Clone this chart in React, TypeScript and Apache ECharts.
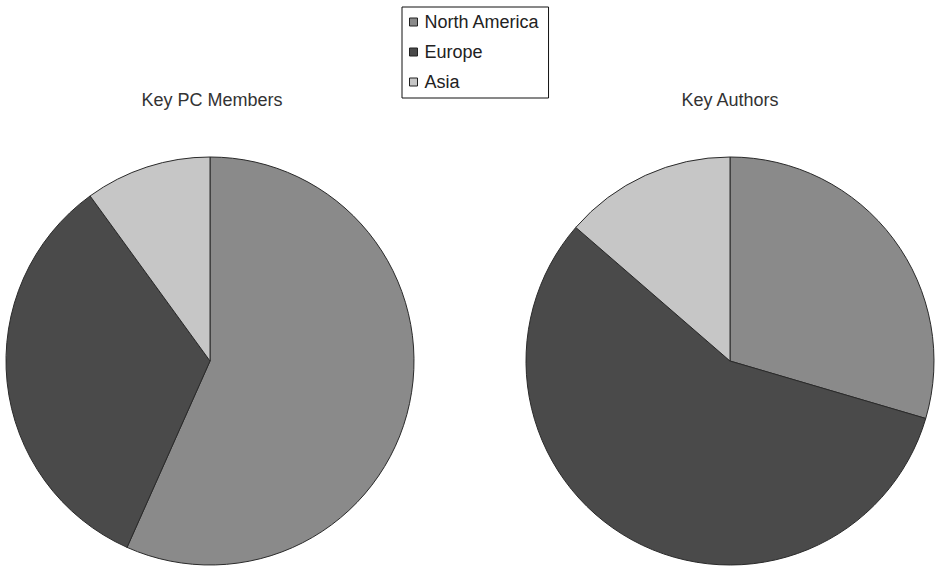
import React, { useEffect, useRef } from "react";
import * as echarts from "echarts";

const regions = ["North America", "Europe", "Asia"];
const regionColors = ["#8a8a8a", "#4a4a4a", "#c6c6c6"];
const pcMembers = [17, 10, 3];
const authors = [13, 25, 6];
const chartTitles = ["Key PC Members", "Key Authors"];

const FONT = "'Liberation Sans', Arial, sans-serif";

export default function App() {
  const ref = useRef<HTMLDivElement>(null);

  useEffect(() => {
    if (!ref.current) return;
    const chart = echarts.init(ref.current, null, { renderer: "svg" });

    const pieSeries = (name: string, values: number[], cx: number) => ({
      name,
      type: "pie",
      center: [cx, 361],
      radius: 204,
      startAngle: 90,
      clockwise: true,
      label: { show: false },
      labelLine: { show: false },
      emphasis: { disabled: true },
      itemStyle: { borderColor: "#2a2a2a", borderWidth: 1 },
      data: values.map((v, i) => ({
        name: regions[i],
        value: v,
        itemStyle: { color: regionColors[i] },
      })),
    });

    const titleText = (text: string, x: number) => ({
      type: "text",
      x,
      y: 100,
      style: {
        text,
        fontFamily: FONT,
        fontSize: 18,
        fill: "#333",
        textAlign: "center",
        textVerticalAlign: "middle",
      },
    });

    chart.setOption({
      animation: false,
      backgroundColor: "#ffffff",
      legend: {
        data: regions,
        orient: "vertical",
        left: 402,
        top: 7,
        padding: [5, 9, 6, 7],
        itemGap: 10,
        itemWidth: 8,
        itemHeight: 8,
        icon: "rect",
        borderColor: "#111",
        borderWidth: 1,
        selectedMode: false,
        itemStyle: { borderColor: "#222", borderWidth: 1 },
        textStyle: {
          fontFamily: FONT,
          fontSize: 18,
          lineHeight: 20,
          color: "#222",
          padding: [0, 0, 0, 2],
        },
      },
      graphic: [titleText(chartTitles[0], 212), titleText(chartTitles[1], 730)],
      series: [pieSeries(chartTitles[0], pcMembers, 210), pieSeries(chartTitles[1], authors, 730)],
    });

    return () => chart.dispose();
  }, []);

  return <div ref={ref} style={{ width: 935, height: 567, position: "absolute", left: 0, top: 0 }} />;
}
